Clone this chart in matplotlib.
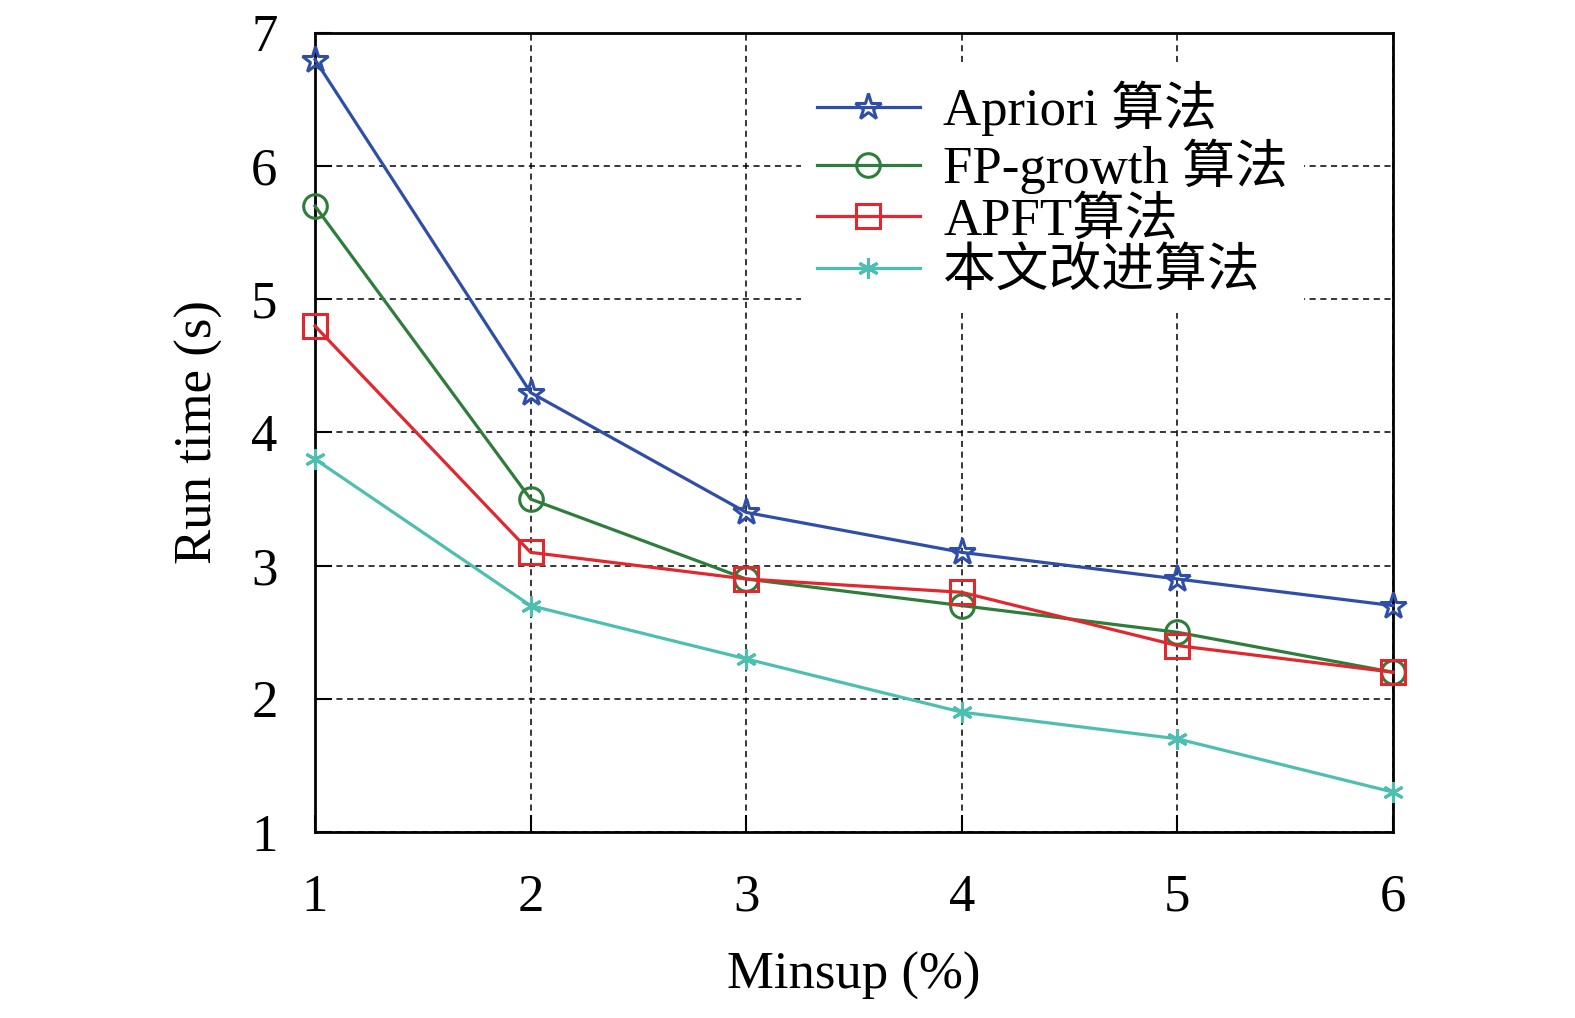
import matplotlib
matplotlib.use("Agg")
import matplotlib.pyplot as plt

plt.rcParams['font.family'] = ['Liberation Serif', 'Noto Sans CJK SC']

minsup = [1, 2, 3, 4, 5, 6]
apriori = [6.8, 4.3, 3.4, 3.1, 2.9, 2.7]
fp_growth = [5.7, 3.5, 2.9, 2.7, 2.5, 2.2]
apft = [4.8, 3.1, 2.9, 2.8, 2.4, 2.2]
improved = [3.8, 2.7, 2.3, 1.9, 1.7, 1.3]

labels = ["Apriori 算法", "FP-growth 算法", "APFT算法", "本文改进算法"]
colors = ["#2f4ea8", "#2e7d3a", "#e0282e", "#4dbfb1"]
markers = ["*", "o", "s", (6, 2, 0)]
sizes = [20, 17, 17, 15]

fig = plt.figure(figsize=(15.75, 10.18), dpi=100)
ax = fig.add_axes([0.2, 0.1827, 0.6844, 0.7849])

for ys, lab, col, mk, ms in zip([apriori, fp_growth, apft, improved], labels, colors, markers, sizes):
    ax.plot(minsup, ys, color=col, lw=2.3, marker=mk, markersize=ms,
            markerfacecolor='none', markeredgecolor=col, markeredgewidth=2.2,
            label=lab, clip_on=False, zorder=3)

ax.set_xlim(1, 6)
ax.set_ylim(1, 7)
ax.set_xticks(minsup)
ax.set_yticks(range(1, 8))
ax.grid(True, color='black', linestyle=(0, (4, 3)), lw=1.1)
ax.tick_params(direction='in', length=12, width=1.5, labelsize=38)
ax.tick_params(axis='x', pad=30)
ax.tick_params(axis='y', pad=27)
for sp in ax.spines.values():
    sp.set_linewidth(2)

ax.set_xlabel("Minsup (%)", fontsize=38, labelpad=22)
ax.set_ylabel("Run time (s)", fontsize=38, labelpad=20)

leg = ax.legend(loc='upper right', bbox_to_anchor=(0.942, 0.993), fontsize=38,
                frameon=True, fancybox=False, handlelength=1.95,
                handletextpad=0.45, labelspacing=0.05, borderpad=0.3)
leg.get_frame().set_edgecolor('none')
leg.get_frame().set_facecolor('white')
leg.get_frame().set_alpha(1)

fig.savefig("out.png", dpi=100)
